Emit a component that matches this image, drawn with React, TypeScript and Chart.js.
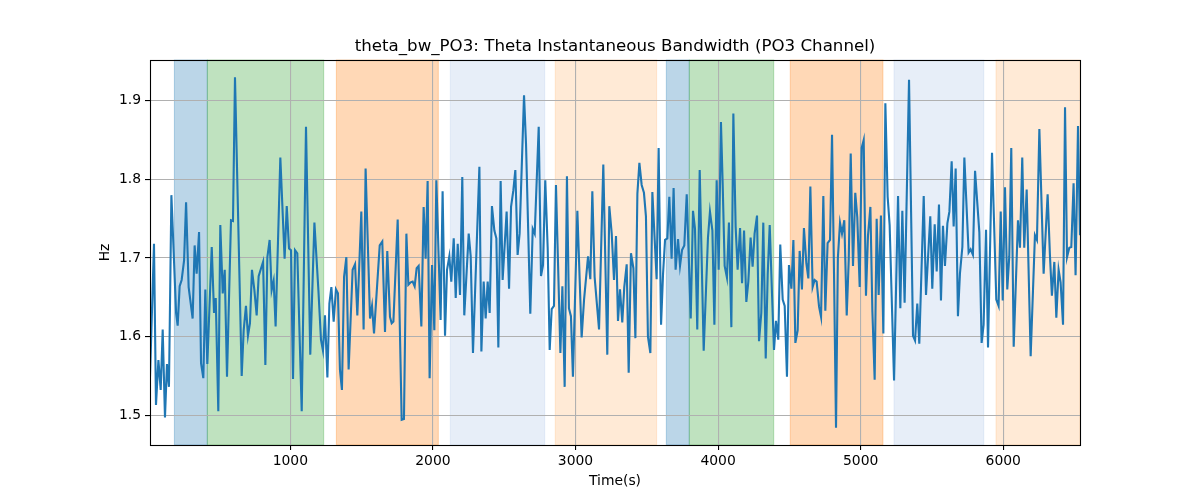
import { useEffect, useRef } from "react";
import { Chart, registerables } from "chart.js";

Chart.register(...registerables);

// time stamps (s) and instantaneous bandwidth (Hz)
const timeSec = [
  16, 44, 58, 75, 91, 105, 121, 135, 149, 166, 199, 210, 224, 238, 255, 269, 287, 315, 329, 343,
  360, 374, 390, 404, 418, 449, 465, 477, 495, 509, 526, 540, 556, 584, 598, 612, 659, 673, 689, 703,
  717, 731, 748, 764, 778, 795, 809, 825, 839, 855, 869, 883, 897, 930, 960, 975, 991, 1005, 1019, 1033,
  1049, 1080, 1110, 1140, 1169, 1197, 1215, 1229, 1243, 1260, 1274, 1288, 1304, 1320, 1334, 1348, 1362, 1377, 1393, 1409,
  1437, 1454, 1470, 1498, 1514, 1528, 1559, 1573, 1587, 1627, 1645, 1664, 1680, 1699, 1711, 1723, 1753, 1781, 1797, 1814,
  1828, 1844, 1858, 1872, 1886, 1900, 1919, 1935, 1949, 1963, 1977, 1994, 2010, 2024, 2054, 2068, 2085, 2099, 2115, 2129,
  2146, 2160, 2174, 2190, 2206, 2220, 2251, 2265, 2281, 2309, 2326, 2340, 2356, 2370, 2384, 2398, 2414, 2431, 2445, 2459,
  2475, 2489, 2517, 2534, 2548, 2564, 2578, 2594, 2608, 2639, 2653, 2683, 2700, 2714, 2742, 2758, 2772, 2788, 2805, 2819,
  2833, 2849, 2863, 2894, 2908, 2924, 2940, 2954, 2968, 2982, 3013, 3043, 3060, 3088, 3104, 3118, 3134, 3165, 3195, 3223,
  3237, 3254, 3270, 3284, 3298, 3312, 3328, 3342, 3359, 3373, 3389, 3406, 3420, 3434, 3448, 3464, 3480, 3494, 3508, 3525,
  3539, 3569, 3583, 3600, 3614, 3628, 3644, 3658, 3674, 3688, 3702, 3719, 3733, 3747, 3763, 3780, 3808, 3824, 3838, 3854,
  3871, 3899, 3929, 3943, 3960, 3974, 3990, 4004, 4020, 4032, 4046, 4062, 4076, 4093, 4107, 4123, 4137, 4154, 4168, 4182,
  4198, 4212, 4228, 4242, 4256, 4273, 4287, 4303, 4317, 4334, 4348, 4362, 4378, 4392, 4406, 4422, 4436, 4453, 4467, 4483,
  4497, 4514, 4528, 4542, 4558, 4572, 4588, 4602, 4619, 4633, 4647, 4663, 4677, 4691, 4708, 4722, 4738, 4752, 4768, 4785,
  4799, 4813, 4827, 4840, 4855, 4869, 4885, 4902, 4916, 4930, 4946, 4962, 4976, 4993, 5007, 5021, 5037, 5051, 5068, 5082,
  5098, 5112, 5126, 5142, 5159, 5173, 5189, 5203, 5234, 5262, 5278, 5292, 5308, 5339, 5367, 5381, 5397, 5411, 5442, 5458,
  5488, 5502, 5519, 5533, 5549, 5563, 5577, 5591, 5608, 5622, 5638, 5652, 5666, 5682, 5696, 5713, 5727, 5757, 5771, 5787,
  5802, 5832, 5848, 5862, 5879, 5893, 5921, 5951, 5967, 5982, 5996, 6012, 6028, 6042, 6056, 6073, 6103, 6117, 6133, 6147,
  6164, 6192, 6222, 6236, 6253, 6283, 6311, 6327, 6341, 6358, 6372, 6388, 6402, 6419, 6433, 6447, 6463, 6477, 6493, 6507,
  6524, 6538,
];

const bandwidthHz = [
  1.549, 1.718, 1.513, 1.570, 1.532, 1.609, 1.497, 1.565, 1.536, 1.780, 1.630, 1.614, 1.664, 1.672, 1.697, 1.771, 1.663, 1.623, 1.716, 1.680,
  1.733, 1.566, 1.547, 1.660, 1.565, 1.714, 1.630, 1.649, 1.505, 1.742, 1.655, 1.685, 1.549, 1.748, 1.747, 1.930, 1.550, 1.608, 1.639, 1.601,
  1.617, 1.685, 1.659, 1.627, 1.677, 1.687, 1.695, 1.564, 1.701, 1.723, 1.659, 1.671, 1.613, 1.828, 1.699, 1.766, 1.712, 1.710, 1.546, 1.710,
  1.706, 1.505, 1.867, 1.577, 1.745, 1.659, 1.596, 1.582, 1.627, 1.548, 1.642, 1.663, 1.619, 1.660, 1.655, 1.558, 1.532, 1.676, 1.701, 1.558,
  1.685, 1.692, 1.627, 1.759, 1.609, 1.814, 1.623, 1.639, 1.604, 1.716, 1.721, 1.606, 1.709, 1.625, 1.617, 1.619, 1.749, 1.494, 1.495, 1.731,
  1.666, 1.669, 1.670, 1.664, 1.687, 1.690, 1.613, 1.765, 1.699, 1.798, 1.547, 1.691, 1.608, 1.799, 1.621, 1.785, 1.601, 1.685, 1.702, 1.670,
  1.725, 1.649, 1.718, 1.653, 1.803, 1.627, 1.731, 1.702, 1.579, 1.727, 1.816, 1.581, 1.670, 1.623, 1.670, 1.630, 1.766, 1.735, 1.725, 1.586,
  1.798, 1.672, 1.759, 1.661, 1.765, 1.786, 1.812, 1.704, 1.731, 1.907, 1.845, 1.629, 1.737, 1.731, 1.867, 1.677, 1.691, 1.799, 1.712, 1.583,
  1.635, 1.639, 1.793, 1.579, 1.664, 1.536, 1.804, 1.636, 1.626, 1.549, 1.760, 1.599, 1.647, 1.702, 1.673, 1.785, 1.676, 1.609, 1.819, 1.577,
  1.766, 1.731, 1.672, 1.728, 1.620, 1.660, 1.618, 1.663, 1.692, 1.554, 1.706, 1.687, 1.598, 1.782, 1.821, 1.793, 1.783, 1.753, 1.600, 1.579,
  1.784, 1.673, 1.840, 1.615, 1.680, 1.723, 1.725, 1.778, 1.699, 1.789, 1.685, 1.724, 1.690, 1.710, 1.716, 1.781, 1.623, 1.760, 1.737, 1.609,
  1.812, 1.582, 1.726, 1.759, 1.735, 1.615, 1.799, 1.685, 1.873, 1.795, 1.690, 1.675, 1.745, 1.612, 1.884, 1.740, 1.685, 1.738, 1.668, 1.735,
  1.644, 1.670, 1.726, 1.689, 1.731, 1.754, 1.594, 1.630, 1.745, 1.572, 1.680, 1.742, 1.655, 1.583, 1.620, 1.596, 1.717, 1.647, 1.639, 1.549,
  1.691, 1.661, 1.723, 1.592, 1.608, 1.709, 1.660, 1.738, 1.693, 1.674, 1.791, 1.663, 1.672, 1.670, 1.638, 1.625, 1.779, 1.633, 1.719, 1.723,
  1.857, 1.680, 1.484, 1.700, 1.745, 1.731, 1.748, 1.627, 1.697, 1.833, 1.690, 1.783, 1.752, 1.663, 1.840, 1.850, 1.652, 1.728, 1.765, 1.632,
  1.545, 1.750, 1.653, 1.754, 1.604, 1.897, 1.778, 1.742, 1.544, 1.779, 1.636, 1.760, 1.643, 1.927, 1.601, 1.595, 1.642, 1.591, 1.779, 1.653,
  1.753, 1.661, 1.743, 1.683, 1.768, 1.646, 1.741, 1.690, 1.744, 1.759, 1.823, 1.740, 1.814, 1.626, 1.680, 1.714, 1.828, 1.707, 1.711, 1.704,
  1.811, 1.733, 1.592, 1.615, 1.736, 1.586, 1.834, 1.647, 1.639, 1.759, 1.646, 1.790, 1.660, 1.702, 1.840, 1.587, 1.748, 1.713, 1.828, 1.713,
  1.787, 1.575, 1.729, 1.723, 1.864, 1.680, 1.781, 1.704, 1.652, 1.695, 1.624, 1.685, 1.669, 1.615, 1.892, 1.701, 1.713, 1.714, 1.795, 1.678,
  1.868, 1.729,
];

// shaded segments (s) and which kind of segment each one is
const spanStart = [187, 418, 1323, 2122, 2858, 3637, 3798, 4506, 5234, 5949];
const spanEnd = [418, 1234, 2038, 2784, 3569, 3798, 4390, 5156, 5863, 6538];
const spanKind = [0, 1, 2, 3, 4, 0, 1, 2, 3, 4];

const xTicks = [1000, 2000, 3000, 4000, 5000, 6000];
const yTicks = [1.5, 1.6, 1.7, 1.8, 1.9];

const X_MIN = 16;
const X_MAX = 6538;
const Y_MIN = 1.462;
const Y_MAX = 1.952;

// tab10 style fills, alpha 0.3
const SPAN_COLORS = [
  "rgba(31,119,180,0.3)",
  "rgba(44,160,44,0.3)",
  "rgba(255,127,14,0.3)",
  "rgba(174,199,232,0.3)",
  "rgba(255,187,120,0.3)",
];

const FONT = "DejaVu Sans";

const spansPlugin = {
  id: "spans",
  beforeDraw: (chart: Chart) => {
    const { ctx, chartArea, scales } = chart;
    const x = scales.x;
    ctx.save();
    spanStart.forEach((s, i) => {
      const x0 = x.getPixelForValue(s);
      const x1 = x.getPixelForValue(spanEnd[i]);
      ctx.fillStyle = SPAN_COLORS[spanKind[i]];
      ctx.fillRect(x0, chartArea.top, x1 - x0, chartArea.bottom - chartArea.top);
      ctx.strokeStyle = SPAN_COLORS[spanKind[i]];
      ctx.lineWidth = 1;
      ctx.strokeRect(x0, chartArea.top, x1 - x0, chartArea.bottom - chartArea.top);
    });
    ctx.restore();
  },
};

const framePlugin = {
  id: "frame",
  afterDraw: (chart: Chart) => {
    const { ctx, chartArea } = chart;
    ctx.save();
    ctx.strokeStyle = "#000";
    ctx.lineWidth = 1.1;
    ctx.strokeRect(
      Math.round(chartArea.left) + 0.5,
      Math.round(chartArea.top) + 0.5,
      Math.round(chartArea.right - chartArea.left),
      Math.round(chartArea.bottom - chartArea.top)
    );
    ctx.restore();
  },
};

export default function App() {
  const canvasRef = useRef<HTMLCanvasElement | null>(null);

  useEffect(() => {
    document.body.style.margin = "0";
    const el = canvasRef.current;
    if (!el) return;

    const chart = new Chart(el, {
      type: "line",
      data: {
        datasets: [
          {
            data: timeSec.map((t, i) => ({ x: t, y: bandwidthHz[i] })),
            borderColor: "#1f77b4",
            borderWidth: 2.1,
            pointRadius: 0,
            tension: 0,
            fill: false,
          },
        ],
      },
      options: {
        animation: false,
        responsive: false,
        devicePixelRatio: 1,
        layout: { padding: { left: 0, right: 120, top: 0, bottom: 0 } },
        plugins: {
          legend: { display: false },
          tooltip: { enabled: false },
          title: {
            display: true,
            fullSize: false,
            text: "theta_bw_PO3: Theta Instantaneous Bandwidth (PO3 Channel)",
            color: "#000",
            font: { family: FONT, size: 16.67, weight: "normal" },
            padding: { top: 37, bottom: 3 },
          },
        },
        scales: {
          x: {
            type: "linear",
            min: X_MIN,
            max: X_MAX,
            afterBuildTicks: (scale: any) => {
              scale.ticks = xTicks.map((v) => ({ value: v }));
            },
            afterFit: (scale: any) => {
              scale.height = 55;
            },
            ticks: {
              color: "#000",
              font: { family: FONT, size: 13.9 },
              padding: 3,
              maxRotation: 0,
              callback: (v: any) => String(v),
            },
            grid: {
              color: "#b0b0b0",
              lineWidth: 1.1,
              tickColor: "#000",
              tickLength: 5,
            },
            border: { display: false },
            title: {
              display: true,
              text: "Time(s)",
              color: "#000",
              font: { family: FONT, size: 13.9 },
              padding: { top: 0, bottom: 10.5 },
            },
          },
          y: {
            type: "linear",
            min: Y_MIN,
            max: Y_MAX,
            afterBuildTicks: (scale: any) => {
              scale.ticks = yTicks.map((v) => ({ value: v }));
            },
            afterFit: (scale: any) => {
              scale.width = 150;
            },
            ticks: {
              color: "#000",
              font: { family: FONT, size: 13.9 },
              padding: 4,
              callback: (v: any) => Number(v).toFixed(1),
            },
            grid: {
              color: "#b0b0b0",
              lineWidth: 1.1,
              tickColor: "#000",
              tickLength: 5,
            },
            border: { display: false },
            title: {
              display: true,
              text: "Hz",
              color: "#000",
              font: { family: FONT, size: 13.9 },
              padding: { top: 97.5, bottom: 0 },
            },
          },
        },
      },
      plugins: [spansPlugin, framePlugin],
    });

    return () => {
      chart.destroy();
    };
  }, []);

  return (
    <div style={{ width: 1200, height: 500, background: "#fff" }}>
      <canvas ref={canvasRef} width={1200} height={500} />
    </div>
  );
}
